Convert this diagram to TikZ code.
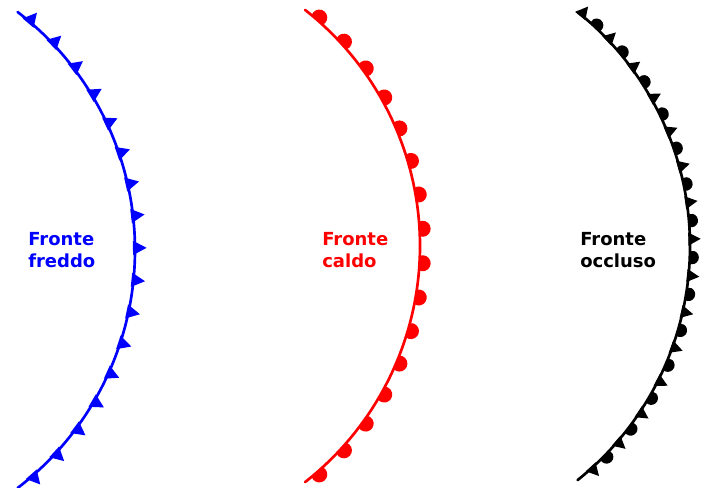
\documentclass[tikz,border=0pt]{standalone}
\usepackage{fontspec}
\setmainfont{DejaVu Sans}
\usepackage{tikz}
\definecolor{coldblue}{RGB}{0,0,255}
\definecolor{warmred}{RGB}{255,0,0}
\definecolor{occblack}{RGB}{0,0,0}
\tikzset{
  frontline/.style={line width=1.9pt, line cap=round},
  frontlabel/.style={anchor=west, align=left, inner sep=0pt,
    font=\bfseries\fontsize{12.8}{15.6}\selectfont}
}

\begin{document}
\begin{tikzpicture}
  \useasboundingbox (0,0) rectangle (17.65,12.175);

  % Cold front (triangles)
  \begin{scope}[shift={(-4.125,5.925)}]
    \draw[frontline, coldblue] (52.5:7.5) arc[start angle=52.5, end angle=-52.5, radius=7.5];
    \foreach \i in {0,...,16} {
      \pgfmathsetmacro{\ang}{49.6-6.15*\i}
      \fill[coldblue, rotate=\ang] (7.45,-0.18) -- (7.79,0) -- (7.45,0.18) -- cycle;
    }
  \end{scope}
  \node[frontlabel, coldblue] (lblcold) at (0.7,5.925) {Fronte\\freddo};

  % Warm front (half discs)
  \begin{scope}[shift={(3.0,6.025)}]
    \draw[frontline, warmred] (51.9:7.5) arc[start angle=51.9, end angle=-51.9, radius=7.5];
    \foreach \i in {0,...,15} {
      \pgfmathsetmacro{\ang}{48.9-6.52*\i}
      \fill[warmred, rotate=\ang] (7.5,-0.184) arc[start angle=-113.2, end angle=113.2, radius=0.2] -- cycle;
    }
  \end{scope}
  \node[frontlabel, warmred] (lblwarm) at (8.05,5.925) {Fronte\\caldo};

  % Occluded front (alternating)
  \begin{scope}[shift={(9.75,6.025)}]
    \draw[frontline, occblack] (51.3:7.5) arc[start angle=51.3, end angle=-51.3, radius=7.5];
    \foreach \i in {0,...,28} {
      \pgfmathsetmacro{\ang}{50.4-3.505*\i}
      \ifodd\i
        \fill[occblack, rotate=\ang] (7.5,-0.16) arc[start angle=-109.5, end angle=109.5, radius=0.17] -- cycle;
      \else
        \fill[occblack, rotate=\ang] (7.46,-0.165) -- (7.77,0) -- (7.46,0.165) -- cycle;
      \fi
    }
  \end{scope}
  \node[frontlabel, occblack] (lblocc) at (14.5,5.925) {Fronte\\occluso};
\end{tikzpicture}
\end{document}
